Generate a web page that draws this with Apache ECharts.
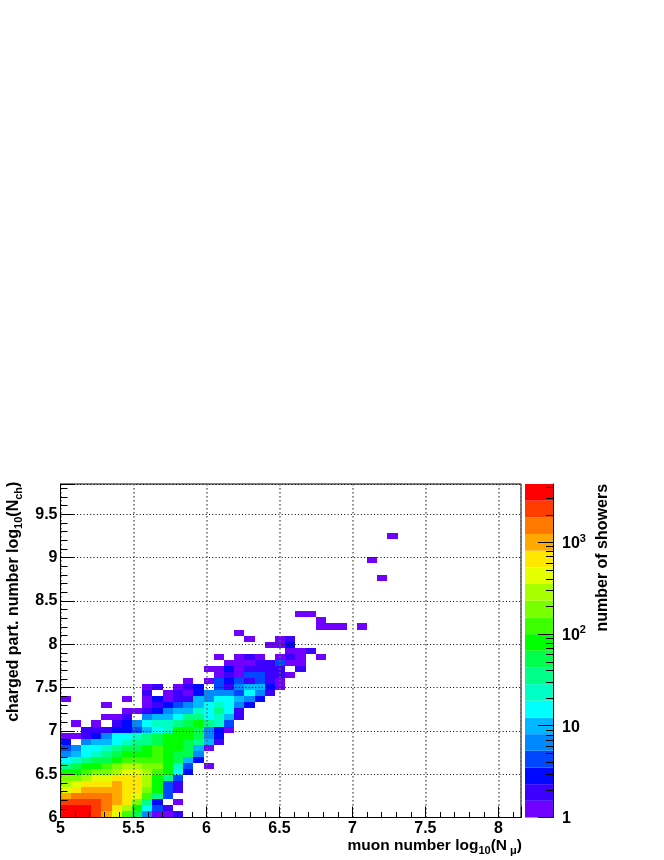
<!DOCTYPE html>
<html><head><meta charset="utf-8">
<script src="https://cdn.jsdelivr.net/npm/echarts@6/dist/echarts.min.js"></script>
<style>html,body{margin:0;padding:0;background:#fff}#c{width:664px;height:860px}</style>
</head><body><div id="c"></div>
<script>
// bin width and lower edges of the 2D histogram (log10 units)
const binWidth = 0.07;
const muonStart = 5;
const chargedStart = 6;
// counts per cell, one list per log10(Nch) row, index = log10(Nmu) column
const row00=[3500,3500,3500,2300,1000,425,120,53,6,1,1,2];
const row01=[3500,3500,3500,2300,1500,650,280,80,15,4,2];
const row02=[2300,2300,2300,2300,1500,1000,650,185,35,3,0,1];
const row03=[1000,1500,1500,1500,1500,1000,650,425,120,35,4];
const row04=[425,650,1000,1000,1000,1000,650,650,185,80,4,2];
const row05=[280,425,650,650,650,1000,650,650,280,80,4,2];
const row06=[185,185,280,425,425,650,650,650,280,80,35,4];
const row07=[80,80,120,185,185,280,425,425,280,120,80,15,3];
const row08=[35,53,80,80,120,185,280,280,185,185,80,23,4,0,1];
const row09=[15,23,35,53,53,80,120,120,120,120,80,53,9,3];
const row10=[6,9,15,23,35,53,80,80,80,120,80,53,53,6];
const row11=[4,6,15,15,23,35,53,53,80,120,80,80,53,9,1];
const row12=[3,0,6,9,9,15,23,35,35,53,80,80,53,35,9,2];
const row13=[1,1,2,3,6,15,15,23,35,53,80,80,80,53,6,3];
const row14=[0,0,2,2,2,3,3,4,9,15,23,80,80,53,6,3,1];
const row15=[0,1,0,1,0,2,3,6,15,23,23,35,53,80,35,23,4];
const row16=[0,0,0,0,1,1,2,0,6,9,9,15,35,35,15,23,9,2];
const row17=[0,0,0,0,0,0,1,1,2,3,6,9,9,23,15,35,15,2];
const row18=[0,0,0,0,1,0,0,0,1,2,3,4,6,9,15,23,15,6,3];
const row19=[1,0,0,0,0,0,1,0,1,3,1,2,2,9,6,15,15,9,6,3];
const row20=[0,0,0,0,0,0,0,0,2,0,1,2,1,3,6,6,6,4,15,6,2];
const row21=[0,0,0,0,0,0,0,0,1,2,0,1,2,3,0,4,2,6,9,9,3,1];
const row22=[0,0,0,0,0,0,0,0,0,0,0,0,1,0,1,4,3,4,2,4,2,1];
const row23=[0,0,0,0,0,0,0,0,0,0,0,0,0,0,0,1,2,1,4,4,2,2,1];
const row24=[0,0,0,0,0,0,0,0,0,0,0,0,0,0,1,1,3,1,2,2,2,2,0,2];
const row25=[0,0,0,0,0,0,0,0,0,0,0,0,0,0,0,0,1,1,1,2,2,4,1,1];
const row26=[0,0,0,0,0,0,0,0,0,0,0,0,0,0,0,1,0,1,2,1,0,1,2,1,0,1];
const row27=[0,0,0,0,0,0,0,0,0,0,0,0,0,0,0,0,0,0,0,0,0,0,1,1,2];
const row28=[0,0,0,0,0,0,0,0,0,0,0,0,0,0,0,0,0,0,0,0,1,1,3];
const row29=[0,0,0,0,0,0,0,0,0,0,0,0,0,0,0,0,0,0,1,0,0,1,2];
const row30=[0,0,0,0,0,0,0,0,0,0,0,0,0,0,0,0,0,1];
const row31=[0,0,0,0,0,0,0,0,0,0,0,0,0,0,0,0,0,0,0,0,0,0,0,0,0,1,1,1,0,1];
const row32=[0,0,0,0,0,0,0,0,0,0,0,0,0,0,0,0,0,0,0,0,0,0,0,0,0,1];
const row33=[0,0,0,0,0,0,0,0,0,0,0,0,0,0,0,0,0,0,0,0,0,0,0,1,1];
const row34=[];const row35=[];const row36=[];const row37=[];const row38=[];
const row39=[0,0,0,0,0,0,0,0,0,0,0,0,0,0,0,0,0,0,0,0,0,0,0,0,0,0,0,0,0,0,0,1];
const row40=[];const row41=[];
const row42=[0,0,0,0,0,0,0,0,0,0,0,0,0,0,0,0,0,0,0,0,0,0,0,0,0,0,0,0,0,0,1];
const row43=[];const row44=[];const row45=[];
const row46=[0,0,0,0,0,0,0,0,0,0,0,0,0,0,0,0,0,0,0,0,0,0,0,0,0,0,0,0,0,0,0,0,1];
const allRows=[row00,row01,row02,row03,row04,row05,row06,row07,row08,row09,row10,row11,row12,row13,row14,row15,row16,row17,row18,row19,row20,row21,row22,row23,row24,row25,row26,row27,row28,row29,row30,row31,row32,row33,row34,row35,row36,row37,row38,row39,row40,row41,row42,row43,row44,row45,row46];
// colour scale
const bandEdges=[1,1.52,2.31,3.51,5.33,8.09,12.3,18.7,28.4,43.1,65.6,99.6,151,230,350,531,807,1226,1863,2830,4300];
const bandColors=['#7000ff','#3c00ff','#0008ff','#0048ff','#0088ff','#00b8ff','#00ffff','#00ffc4','#00ff88','#00ff4c','#00ff00','#3cff00','#78ff00','#a8ff00','#e4ff00','#ffe800','#ffa800','#ff7800','#ff3c00','#ff0000'];
const colorMajorTicks=[1,10,100,1000];
const colorMinorTicks=[2,3,4,5,6,7,8,9,20,30,40,50,60,70,80,90,200,300,400,500,600,700,800,900,2000,3000,4000];
const xTitle='muon number log{sub|10}(N{subm|\u03bc})';
const yTitle='charged part. number log{sub|10}(N{sub|ch})';
const barTitle='number of showers';

const cells=[];
allRows.forEach((r,j)=>r.forEach((v,i)=>{if(v>0)cells.push([muonStart+i*binWidth,chargedStart+j*binWidth,v]);}));
const bands=bandColors.map((c,i)=>[bandEdges[i],bandEdges[i+1]]);
const FONT='"Liberation Sans",Arial,sans-serif';
const lbl={fontFamily:FONT,fontWeight:'bold',fontSize:16,color:'#000'};
const nameRich={
  sub:{fontFamily:FONT,fontWeight:'bold',fontSize:11,padding:[11,0,0,0]},
  subm:{fontFamily:FONT,fontWeight:'bold',fontSize:11,padding:[11,0,0,3]}
};
const chart=echarts.init(document.getElementById('c'),null,{renderer:'canvas'});
chart.setOption({
  animation:false,
  backgroundColor:'#fff',
  grid:[
    {left:60.5,top:484,width:460.5,height:333.5,show:true,borderColor:'#000',borderWidth:1,backgroundColor:'#fff',outerBoundsMode:'none'},
    {left:525,top:484,width:28,height:333.5,outerBoundsMode:'none'}
  ],
  visualMap:{show:false,type:'piecewise',seriesIndex:0,dimension:2,
    pieces:bandColors.map((c,i)=>({gte:bandEdges[i],lt:bandEdges[i+1],color:c}))},
  xAxis:[
    {type:'value',gridIndex:0,min:5,max:8.155,interval:0.5,z:10,
     axisLine:{show:true,onZero:false,lineStyle:{color:'#000',width:1}},
     axisTick:{show:true,inside:true,length:11,lineStyle:{color:'#000',width:1}},
     minorTick:{show:true,splitNumber:5,length:5.5,lineStyle:{color:'#000',width:1}},
     splitLine:{show:true,lineStyle:{color:'#666',width:1.5,type:[1.5,2.5]}},
     minorSplitLine:{show:false},
     axisLabel:{...lbl,margin:3,showMaxLabel:false,formatter:v=>String(v)},
     name:xTitle,nameLocation:'middle',nameGap:15,
     nameTextStyle:{...lbl,fontSize:15.5,padding:[0,0,0,288],rich:nameRich}},
    {type:'value',gridIndex:1,min:0,max:1,show:false}
  ],
  yAxis:[
    {type:'value',gridIndex:0,min:6,max:9.85,interval:0.5,z:10,
     axisLine:{show:true,onZero:false,lineStyle:{color:'#000',width:1}},
     axisTick:{show:true,inside:true,length:14,lineStyle:{color:'#000',width:1}},
     minorTick:{show:true,splitNumber:5,length:7,lineStyle:{color:'#000',width:1}},
     splitLine:{show:true,lineStyle:{color:'#000',width:1,type:[1,2.3]}},
     axisLabel:{...lbl,margin:3,padding:[4,0,0,0],showMaxLabel:false,formatter:v=>String(v)},
     name:yTitle,nameLocation:'middle',nameGap:27,nameRotate:90,
     nameTextStyle:{...lbl,padding:[0,0,0,98],rich:nameRich}},
    {type:'log',gridIndex:1,position:'right',min:1,max:4300,logBase:10,z:10,
     axisLine:{show:true,onZero:false,lineStyle:{color:'#000',width:1}},
     axisTick:{show:true,inside:true,length:15,customValues:colorMajorTicks,lineStyle:{color:'#000',width:1}},
     minorTick:{show:false},splitLine:{show:false},
     axisLabel:{...lbl,margin:9,padding:[3,0,0,0],customValues:colorMajorTicks,
       formatter:v=>v<2?'1':v<20?'10':v<200?'{b|10}{s|2}':'{b|10}{s|3}',
       rich:{b:{...lbl},s:{...lbl,fontSize:11,padding:[0,0,10,0]}}},
     name:barTitle,nameLocation:'middle',nameRotate:90,nameGap:42,
     nameTextStyle:{...lbl,padding:[0,0,0,186]}}
  ],
  series:[
    {type:'custom',coordinateSystem:'cartesian2d',xAxisIndex:0,yAxisIndex:0,silent:true,z:2,
     data:cells,encode:{x:0,y:1},
     renderItem:(p,api)=>{
       const x=api.value(0),y=api.value(1);
       const a=api.coord([x,y]),b=api.coord([x+binWidth,y+binWidth]);
       const l=Math.round(a[0]),r=Math.round(b[0]),t=Math.round(b[1]),m=Math.round(a[1]);
       return {type:'rect',shape:{x:l,y:t,width:r-l,height:m-t},style:{fill:api.visual('color')}};
     }},
    {type:'custom',coordinateSystem:'cartesian2d',xAxisIndex:1,yAxisIndex:1,silent:true,z:2,
     data:bands,encode:{y:[0,1]},
     renderItem:(p,api)=>{
       const a=api.coord([0,api.value(0)]),b=api.coord([1,api.value(1)]);
       return {type:'rect',shape:{x:a[0],y:b[1],width:b[0]-a[0],height:a[1]-b[1]},style:{fill:bandColors[p.dataIndex]}};
     }},
    {type:'custom',coordinateSystem:'cartesian2d',xAxisIndex:1,yAxisIndex:1,silent:true,z:11,
     data:colorMinorTicks.map(v=>[1,v]),encode:{y:1},
     renderItem:(p,api)=>{
       const a=api.coord([1,api.value(1)]);
       const y=Math.round(a[1])+0.5;
       return {type:'line',shape:{x1:a[0]-7,y1:y,x2:a[0],y2:y},style:{stroke:'#000',lineWidth:1}};
     }}
  ]
});
</script></body></html>
